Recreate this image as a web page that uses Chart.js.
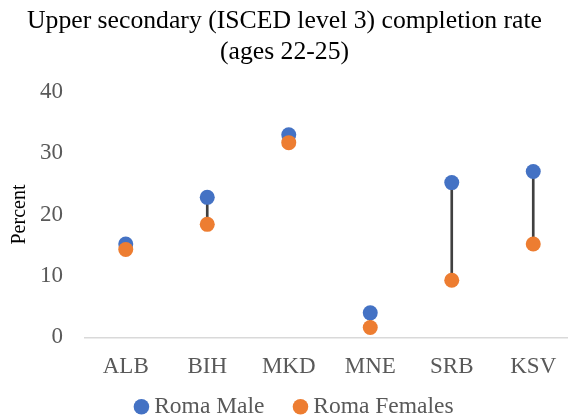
<!DOCTYPE html>
<html>
<head>
<meta charset="utf-8">
<script src="https://cdn.jsdelivr.net/npm/chart.js@4/dist/chart.umd.min.js"></script>
<style>
  html, body { margin: 0; padding: 0; background: #fff; overflow: hidden; }
  #wrap { width: 574px; height: 416px; }
</style>
</head>
<body>
<div id="wrap"><canvas id="chart" width="574" height="416"></canvas></div>
<script>
// Data
const countries = ['ALB', 'BIH', 'MKD', 'MNE', 'SRB', 'KSV'];
const romaMale = [15.2, 22.8, 33.0, 4.0, 25.2, 27.0];
const romaFemales = [14.3, 18.4, 31.7, 1.6, 9.3, 15.2];
const yTicks = [0, 10, 20, 30, 40];

// high-low connector between the two values of each country
const gapRanges = countries.map((c, i) => [romaFemales[i], romaMale[i]]);

const serif = 'Liberation Serif, Times New Roman, serif';

// nudge title and legend: legend sits closer to the axis labels than
// Chart.js padding allows, title is centred on the visible 568px window
const nudgeBoxes = {
  id: 'nudgeBoxes',
  afterLayout(chart) {
    const lg = chart.legend;
    if (lg) {
      lg.top -= 29;
      lg.bottom -= 29;
      lg.left += 6;
      lg.right += 6;
    }
    const tb = chart.titleBlock;
    if (tb) {
      tb.left -= 6.5;
      tb.right -= 6.5;
    }
  }
};

new Chart(document.getElementById('chart'), {
  data: {
    labels: countries,
    datasets: [
      {
        type: 'line',
        label: 'Roma Male',
        data: romaMale,
        showLine: false,
        pointRadius: 7.5,
        pointHoverRadius: 7.5,
        backgroundColor: '#4472C4',
        borderColor: '#4472C4',
        borderWidth: 0,
        order: 2
      },
      {
        type: 'line',
        label: 'Roma Females',
        data: romaFemales,
        showLine: false,
        pointRadius: 7.5,
        pointHoverRadius: 7.5,
        backgroundColor: '#ED7D31',
        borderColor: '#ED7D31',
        borderWidth: 0,
        order: 1
      },
      {
        type: 'bar',
        label: 'gap',
        data: gapRanges,
        barThickness: 2,
        backgroundColor: '#404040',
        order: 3
      }
    ]
  },
  plugins: [nudgeBoxes],
  options: {
    responsive: false,
    animation: false,
    layout: { autoPadding: false, padding: { left: 8, right: 0, top: 0, bottom: -41.5 } },
    plugins: {
      title: {
        display: true,
        text: ['Upper secondary (ISCED level 3) completion rate', '(ages 22-25)'],
        color: '#000',
        font: { family: serif, size: 25.7, weight: 'normal', lineHeight: 1.2 },
        padding: { top: 6, bottom: 24 }
      },
      legend: {
        position: 'bottom',
        labels: {
          usePointStyle: true,
          boxWidth: 2,
          boxHeight: 11,
          padding: 35,
          color: '#595959',
          font: { family: serif, size: 23.5 },
          filter: item => item.text !== 'gap',
          sort: (a, b) => a.datasetIndex - b.datasetIndex
        }
      },
      tooltip: { enabled: false }
    },
    scales: {
      x: {
        grid: { display: false },
        border: { display: true, color: '#D9D9D9', width: 1.5 },
        ticks: {
          color: '#595959',
          font: { family: serif, size: 23 },
          padding: 8
        }
      },
      y: {
        min: 0,
        max: 40,
        afterBuildTicks: axis => { axis.ticks = yTicks.map(v => ({ value: v })); },
        afterFit: axis => { axis.width = 77; },
        grid: { display: false, drawTicks: false },
        border: { display: false },
        ticks: {
          color: '#595959',
          font: { family: serif, size: 23 },
          padding: 22
        },
        title: {
          display: true,
          text: 'Percent',
          color: '#000',
          font: { family: serif, size: 20 },
          padding: 0
        }
      }
    }
  }
});
</script>
</body>
</html>
